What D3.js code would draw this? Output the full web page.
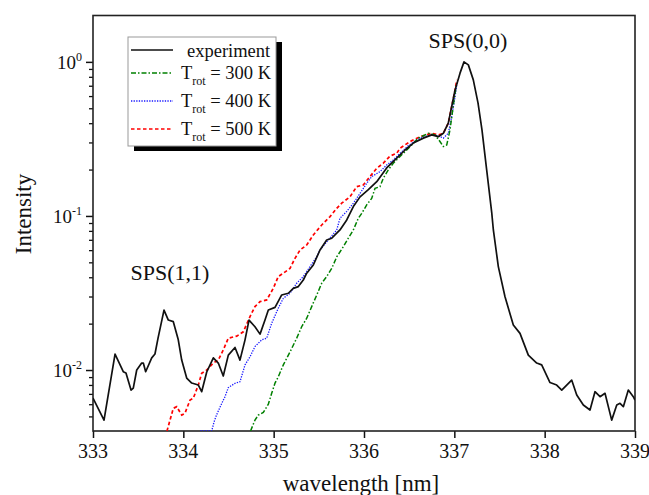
<!DOCTYPE html>
<html>
<head>
<meta charset="utf-8">
<script src="https://cdn.jsdelivr.net/npm/d3@7"></script>
<style>
  body { margin: 0; background: #fff; }
  #chart { width: 649px; height: 495px; }
  svg text { font-family: "Liberation Serif", "Times New Roman", serif; fill: #111; }
</style>
</head>
<body>
<div id="chart"></div>
<script>
/* DATA: wavelength [nm] and normalised intensity */
var expWl = [333.000,333.122,333.244,333.335,333.365,333.421,333.446,333.484,333.539,333.557,333.583,333.650,333.686,333.720,333.786,333.834,333.889,333.944,333.982,334.037,334.093,334.166,334.203,334.259,334.332,334.387,334.442,334.498,334.572,334.627,334.683,334.727,334.793,334.849,334.904,334.941,335.015,335.089,335.162,335.217,335.273,335.328,335.366,335.439,335.513,335.587,335.643,335.734,335.809,335.882,335.956,336.048,336.141,336.251,336.362,336.454,336.546,336.657,336.750,336.823,336.878,336.933,336.971,337.008,337.063,337.107,337.155,337.210,337.262,337.306,337.358,337.414,337.432,337.487,337.561,337.653,337.727,337.819,337.912,337.967,338.059,338.133,338.189,338.244,338.299,338.355,338.428,338.502,338.557,338.613,338.668,338.742,338.798,338.834,338.871,338.926,338.981,339.000];
var expI = [0.00658,0.00473,0.0127,0.00975,0.00957,0.00741,0.00764,0.0100,0.0111,0.0111,0.00975,0.0120,0.0127,0.0161,0.0245,0.0211,0.0206,0.0157,0.0116,0.00887,0.00823,0.00799,0.00723,0.00971,0.0120,0.0111,0.00914,0.0125,0.0140,0.0116,0.0157,0.0211,0.0191,0.0171,0.0211,0.0245,0.0255,0.0307,0.0315,0.0339,0.0348,0.0384,0.0425,0.0481,0.0601,0.0698,0.0717,0.0811,0.0942,0.115,0.133,0.148,0.167,0.205,0.237,0.268,0.297,0.320,0.336,0.327,0.344,0.400,0.513,0.658,0.845,1.0,0.956,0.764,0.542,0.362,0.199,0.105,0.0811,0.0469,0.0299,0.0196,0.0173,0.0125,0.0111,0.0108,0.00829,0.00799,0.00741,0.00799,0.00861,0.00689,0.00593,0.00550,0.00723,0.00671,0.00706,0.00473,0.00593,0.00608,0.00578,0.00741,0.00671,0.00638];

var t300Wl = [334.744,334.793,334.830,334.885,334.941,334.978,335.015,335.051,335.107,335.181,335.255,335.310,335.366,335.421,335.477,335.532,335.587,335.643,335.698,335.771,335.826,335.882,335.937,335.975,336.030,336.085,336.122,336.177,336.214,336.269,336.324,336.380,336.435,336.510,336.601,336.712,336.786,336.841,336.878,336.916,336.952,336.982,337.008,337.027];
var t300I = [0.0038,0.00473,0.00510,0.00530,0.00601,0.00706,0.00823,0.00904,0.0108,0.0131,0.0161,0.0191,0.0217,0.0258,0.0307,0.0366,0.0404,0.0457,0.0542,0.0632,0.0717,0.0811,0.0966,0.104,0.118,0.130,0.151,0.155,0.176,0.199,0.220,0.237,0.255,0.282,0.320,0.344,0.336,0.304,0.282,0.289,0.362,0.488,0.626,0.727];

var t400Wl = [334.190,334.314,334.340,334.367,334.417,334.461,334.498,334.572,334.627,334.683,334.738,334.793,334.868,334.923,334.978,335.051,335.107,335.181,335.255,335.328,335.402,335.477,335.513,335.605,335.698,335.734,335.809,335.882,335.956,336.030,336.085,336.177,336.251,336.324,336.399,336.487,336.584,336.664,336.750,336.823,336.878,336.933,336.971,337.008,337.027];
var t400I = [0.0035,0.0039,0.00460,0.0051,0.00593,0.00671,0.00769,0.00820,0.00839,0.0108,0.0122,0.0142,0.0157,0.0161,0.0201,0.0252,0.0292,0.0315,0.0366,0.0404,0.0469,0.0544,0.0601,0.0698,0.0811,0.0966,0.107,0.121,0.140,0.163,0.180,0.194,0.214,0.231,0.255,0.285,0.312,0.326,0.336,0.331,0.320,0.344,0.442,0.595,0.709];

var t500Wl = [333.819,333.889,333.927,333.982,334.018,334.074,334.110,334.166,334.203,334.259,334.332,334.387,334.442,334.498,334.591,334.664,334.738,334.793,334.849,334.923,334.996,335.051,335.107,335.181,335.236,335.292,335.366,335.439,335.532,335.624,335.698,335.753,335.845,335.919,335.992,336.066,336.141,336.214,336.288,336.362,336.399,336.510,336.620,336.750,336.823,336.878,336.933,336.971,337.008,337.027];
var t500I = [0.0038,0.00564,0.00578,0.00510,0.00524,0.00638,0.00655,0.00799,0.00952,0.0100,0.0111,0.0116,0.0135,0.0161,0.0166,0.0177,0.0222,0.0258,0.0278,0.0285,0.0339,0.0404,0.0425,0.0457,0.0531,0.0601,0.0648,0.0753,0.0874,0.0990,0.112,0.121,0.133,0.155,0.159,0.180,0.204,0.220,0.245,0.255,0.275,0.304,0.327,0.344,0.336,0.344,0.400,0.513,0.658,0.764];

var xTicks = [333, 334, 335, 336, 337, 338, 339];
var yMajor = [0.01, 0.1, 1];
var yExp = ["-2", "-1", "0"];

var seriesNames = ["experiment", "300 K", "400 K", "500 K"];

/* SVG */
var width = 649, height = 495;
var margin = {top: 15.5, right: 14, bottom: 64, left: 93};

var svg = d3.select("#chart")
    .append("svg")
    .attr("width", width)
    .attr("height", height);

var x = d3.scaleLinear()
    .domain([333, 339])
    .range([margin.left, width - margin.right]);

var y = d3.scaleLog()
    .domain([0.00402, 2.0])
    .range([height - margin.bottom, margin.top])
    .clamp(true);

svg.append("clipPath").attr("id", "plotclip")
  .append("rect")
    .attr("x", margin.left).attr("y", margin.top - 1)
    .attr("width", width - margin.left - margin.right)
    .attr("height", height - margin.top - margin.bottom + 1);

/* minor ticks on the log axis */
var yMinor = [];
[0.001, 0.01, 0.1, 1].forEach(function(dec) {
    for (var k = 2; k <= 9; k++) {
        var v = dec * k;
        if (v > 0.00402 && v < 2.0) yMinor.push(v);
    }
});

svg.append("g")
    .attr("transform", "translate(" + margin.left + ",0)")
    .call(d3.axisLeft(y).tickValues(yMinor).tickSize(4).tickFormat(""))
    .call(function(g) { g.select(".domain").remove(); })
    .selectAll("line").attr("stroke", "#111").attr("stroke-width", 1.3);

var yAxis = svg.append("g")
    .attr("transform", "translate(" + margin.left + ",0)")
    .call(d3.axisLeft(y).tickValues(yMajor).tickSize(7).tickFormat(""));
yAxis.select(".domain").remove();
yAxis.selectAll("line").attr("stroke", "#111").attr("stroke-width", 1.5);

yMajor.forEach(function(v, i) {
    var t = svg.append("text")
        .attr("x", margin.left - 11)
        .attr("y", y(v) + 7)
        .attr("text-anchor", "end")
        .style("font-size", "19px");
    t.append("tspan").text("10");
    t.append("tspan").attr("dy", -8).style("font-size", "12px").text(yExp[i]);
});

var xAxis = svg.append("g")
    .attr("transform", "translate(0," + (height - margin.bottom) + ")")
    .call(d3.axisBottom(x).tickValues(xTicks).tickSize(7).tickFormat(""));
xAxis.select(".domain").remove();
xAxis.selectAll("line").attr("stroke", "#111").attr("stroke-width", 1.5);

svg.selectAll(".xlab")
    .data(xTicks)
    .enter()
    .append("text")
        .attr("class", "xlab")
        .attr("x", function(d) { return x(d); })
        .attr("y", height - margin.bottom + 27)
        .attr("text-anchor", "middle")
        .style("font-size", "20px")
        .text(function(d) { return d; });

/* frame */
svg.append("rect")
    .attr("x", margin.left).attr("y", margin.top)
    .attr("width", width - margin.left - margin.right)
    .attr("height", height - margin.top - margin.bottom)
    .attr("fill", "none")
    .attr("stroke", "#222")
    .attr("stroke-width", 1.6);

/* CURVES */
function makeRows(wl, vals) {
    return wl.map(function(w, i) { return {w: w, v: vals[i]}; });
}

var line = d3.line()
    .x(function(d) { return x(d.w); })
    .y(function(d) { return y(d.v); });

var plot = svg.append("g").attr("clip-path", "url(#plotclip)");

plot.append("path")
    .datum(makeRows(t500Wl, t500I))
    .attr("d", line)
    .attr("fill", "none")
    .attr("stroke", "#ff0000")
    .attr("stroke-width", 1.7)
    .attr("stroke-dasharray", "3.5,2.5");

plot.append("path")
    .datum(makeRows(t400Wl, t400I))
    .attr("d", line)
    .attr("fill", "none")
    .attr("stroke", "#1a1aff")
    .attr("stroke-width", 1.3)
    .attr("stroke-dasharray", "1.3,1.3");

plot.append("path")
    .datum(makeRows(t300Wl, t300I))
    .attr("d", line)
    .attr("fill", "none")
    .attr("stroke", "#008000")
    .attr("stroke-width", 1.5)
    .attr("stroke-dasharray", "5,2,1.5,2");

plot.append("path")
    .datum(makeRows(expWl, expI))
    .attr("d", line)
    .attr("fill", "none")
    .attr("stroke", "#111")
    .attr("stroke-width", 1.7)
    .attr("stroke-linejoin", "round");

/* AXIS TITLES */
svg.append("text")
    .attr("x", 361)
    .attr("y", 491)
    .attr("text-anchor", "middle")
    .style("font-size", "23px")
    .text("wavelength [nm]");

svg.append("text")
    .attr("transform", "translate(31,214) rotate(-90)")
    .attr("text-anchor", "middle")
    .style("font-size", "23px")
    .text("Intensity");

/* ANNOTATIONS */
svg.append("text")
    .attr("x", 468).attr("y", 48)
    .attr("text-anchor", "middle")
    .style("font-size", "22px")
    .text("SPS(0,0)");

svg.append("text")
    .attr("x", 170).attr("y", 280)
    .attr("text-anchor", "middle")
    .style("font-size", "22px")
    .text("SPS(1,1)");

/* LEGEND */
var legend = svg.append("g");
legend.append("rect")
    .attr("x", 134).attr("y", 42)
    .attr("width", 148).attr("height", 109)
    .attr("fill", "#000");
legend.append("rect")
    .attr("x", 128).attr("y", 37)
    .attr("width", 148).attr("height", 109)
    .attr("fill", "#fff")
    .attr("stroke", "#999")
    .attr("stroke-width", 1);

var legendRows = [
    {y: 50, color: "#111", dash: null, w: 1.7},
    {y: 73, color: "#008000", dash: "5,2,1.5,2", w: 1.5},
    {y: 101, color: "#1a1aff", dash: "1.3,1.3", w: 1.3},
    {y: 129, color: "#ff0000", dash: "3.5,2.5", w: 1.7}
];

legendRows.forEach(function(r, i) {
    legend.append("line")
        .attr("x1", 131).attr("x2", 173)
        .attr("y1", r.y).attr("y2", r.y)
        .attr("stroke", r.color)
        .attr("stroke-width", r.w)
        .attr("stroke-dasharray", r.dash);
    if (i === 0) {
        legend.append("text")
            .attr("x", 187).attr("y", r.y + 6.5)
            .style("font-size", "18.5px")
            .text(seriesNames[0]);
    } else {
        var t = legend.append("text")
            .attr("x", 181).attr("y", r.y + 5.5)
            .style("font-size", "18.5px");
        t.append("tspan").text("T");
        t.append("tspan").attr("dy", 6).style("font-size", "12px").text("rot");
        t.append("tspan").attr("dy", -6).text(" = " + seriesNames[i]);
    }
});
</script>
</body>
</html>
